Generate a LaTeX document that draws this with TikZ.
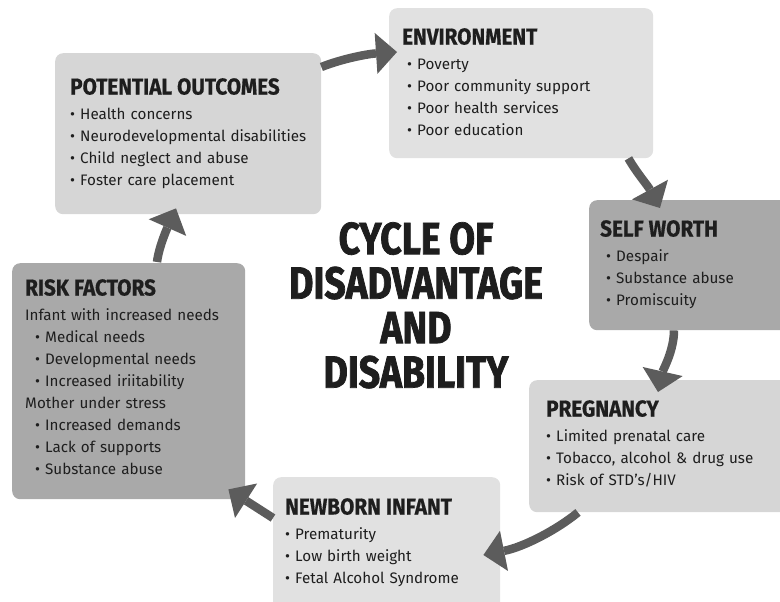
\documentclass[tikz,border=0pt]{standalone}
\usepackage{fontspec}
\setmainfont{Fira Sans}
\newfontfamily\headfont{Fira Sans}[FakeStretch=0.9, BoldFeatures={FakeBold=0.6}]
\newfontfamily\titlefont{Fira Sans}[FakeStretch=0.83, BoldFeatures={FakeBold=1.6}]
\usetikzlibrary{arrows.meta, calc}

\definecolor{boxpale}{HTML}{E1E1E1}
\definecolor{boxlight}{HTML}{D6D6D6}
\definecolor{boxdark}{HTML}{A9A9A9}
\definecolor{arrowgray}{HTML}{5C5C5C}
\definecolor{ink}{HTML}{1E1E1E}

\setlength{\parindent}{0pt}
\newcommand{\hd}[1]{{\headfont\bfseries\fontsize{23}{26}\selectfont #1\par}\vspace{3pt}}
\newcommand{\bl}{\textbullet\ }

\begin{document}
\begin{tikzpicture}[
  x=1pt, y=-1pt,
  box/.style   = {rounded corners=8pt, inner sep=0pt, anchor=north west},
  pale/.style  = {box, fill=boxpale},
  light/.style = {box, fill=boxlight},
  dark/.style  = {box, fill=boxdark},
  txt/.style   = {anchor=north west, inner sep=0pt, text width=250pt, align=left,
                  text=ink, font=\fontsize{15.2}{22}\selectfont},
  cyc/.style   = {line width=8.5pt, draw=arrowgray,
                  -{Triangle[width=41pt, length=21pt, line width=0pt]}},
]
  \useasboundingbox (0,0) rectangle (780,602);

  % the six stages
  \node[light, minimum width=266pt, minimum height=161pt] (po)   at (55,53)  {};
  \node[pale,  minimum width=264pt, minimum height=150pt] (env)  at (389,8)  {};
  \node[dark,  minimum width=203pt, minimum height=130pt] (sw)   at (589,200) {};
  \node[light, minimum width=263pt, minimum height=132pt] (preg) at (529,380) {};
  \node[pale,  minimum width=227pt, minimum height=138pt] (nb)   at (273,477) {};
  \node[dark,  minimum width=233pt, minimum height=236pt] (rf)   at (12,263)  {};

  \node[txt] (po-txt) at ($(po.north west)+(15,25)$) {\hd{POTENTIAL OUTCOMES}
    \bl Health concerns\\
    \bl Neurodevelopmental disabilities\\
    \bl Child neglect and abuse\\
    \bl Foster care placement};
  \node[txt] (env-txt) at ($(env.north west)+(13,20)$) {\hd{ENVIRONMENT}
    \hspace*{5pt}\bl Poverty\\
    \hspace*{5pt}\bl Poor community support\\
    \hspace*{5pt}\bl Poor health services\\
    \hspace*{5pt}\bl Poor education};
  \node[txt] (sw-txt) at ($(sw.north west)+(11,20)$) {\hd{SELF WORTH}
    \hspace*{6pt}\bl Despair\\
    \hspace*{6pt}\bl Substance abuse\\
    \hspace*{6pt}\bl Promiscuity};
  \node[txt] (preg-txt) at ($(preg.north west)+(17,20)$) {\hd{PREGNANCY}
    \bl Limited prenatal care\\
    \bl Tobacco, alcohol \& drug use\\
    \bl Risk of STD’s/HIV};
  \node[txt] (nb-txt) at ($(nb.north west)+(12,21)$) {\hd{NEWBORN INFANT}
    \bl Prematurity\\
    \bl Low birth weight\\
    \bl Fetal Alcohol Syndrome};
  \node[txt] (rf-txt) at ($(rf.north west)+(13,16)$) {\hd{RISK FACTORS}
    Infant with increased needs\\
    \hspace*{10pt}\bl Medical needs\\
    \hspace*{10pt}\bl Developmental needs\\
    \hspace*{10pt}\bl Increased iriitability\\
    Mother under stress\\
    \hspace*{10pt}\bl Increased demands\\
    \hspace*{10pt}\bl Lack of supports\\
    \hspace*{10pt}\bl Substance abuse};

  % title in the middle
  \node[anchor=north, inner sep=0pt, align=center, text=ink,
        font=\titlefont\bfseries\fontsize{45}{44.5}\selectfont] (title) at (416,222)
    {CYCLE OF\\DISADVANTAGE\\AND\\DISABILITY};

  % arrows round the cycle
  \draw[cyc] ($(po.north east)+(0,14)$) .. controls +(20,-8) and +(-30,2) .. ($(env.north west)+(8,44)$);
  \draw[cyc] ($(env.south east)+(-25,0)$) .. controls +(8,14) and +(-12,-22) .. ($(sw.north west)+(71,8)$);
  \draw[cyc] ($(sw.south west)+(85,0)$) .. controls +(0,20) and +(5,-22) .. ($(preg.north west)+(129,12)$);
  \draw[cyc] ($(preg.south west)+(49,0)$) .. controls +(-22,18) and +(40,-8) .. ($(nb.north east)+(-17,78)$);
  \draw[cyc] ($(nb.north west)+(0,41)$) -- ($(rf.south east)+(-17,-10)$);
  \draw[cyc] ($(rf.north west)+(145,-1)$) .. controls +(2,-16) and +(-8,18) .. ($(po.south west)+(121,-6)$);
\end{tikzpicture}
\end{document}
